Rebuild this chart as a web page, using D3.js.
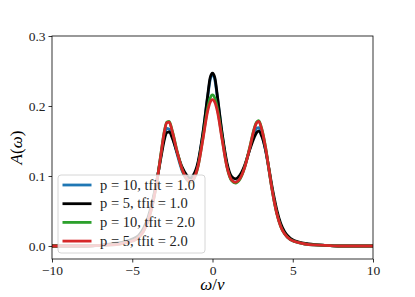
<!DOCTYPE html>
<html>
<head>
<meta charset="utf-8">
<script src="https://cdn.jsdelivr.net/npm/d3@7"></script>
<style>
  body { margin: 0; background: #fff; }
</style>
</head>
<body>
<svg id="chart" width="415" height="297"></svg>
<script>
// values
const omega = [-10, -8, -7, -6, -5.5, -5, -4.6, -4.3, -4.0, -3.7, -3.45, -3.2, -3.0, -2.85, -2.7, -2.5, -2.2, -1.9, -1.6, -1.4, -1.2, -0.9, -0.6, -0.3, -0.15, 0,
  0.15, 0.3, 0.6, 0.9, 1.2, 1.43, 1.7, 2.0, 2.3, 2.6, 2.75, 2.88, 3.05, 3.3, 3.5, 3.7, 3.85, 4.0, 4.25, 4.5, 4.85, 5.5, 6, 7, 8, 10];

const p10_t1 = [0.000, 0.000, 0.001, 0.003, 0.005, 0.008, 0.013, 0.022, 0.039, 0.065, 0.095, 0.131, 0.158, 0.168, 0.167, 0.156, 0.131, 0.108, 0.095, 0.092, 0.096, 0.118, 0.160, 0.213, 0.237, 0.245,
  0.237, 0.213, 0.159, 0.116, 0.094, 0.091, 0.097, 0.113, 0.137, 0.161, 0.168, 0.169, 0.160, 0.137, 0.111, 0.083, 0.064, 0.048, 0.029, 0.018, 0.009, 0.004, 0.002, 0.001, 0.000, 0.000];

const p5_t1 = [0.000, 0.000, 0.001, 0.004, 0.006, 0.010, 0.015, 0.025, 0.042, 0.068, 0.096, 0.128, 0.152, 0.162, 0.163, 0.154, 0.133, 0.113, 0.101, 0.097, 0.101, 0.120, 0.161, 0.215, 0.240, 0.247,
  0.240, 0.215, 0.161, 0.119, 0.099, 0.096, 0.101, 0.115, 0.136, 0.155, 0.162, 0.164, 0.158, 0.138, 0.113, 0.086, 0.068, 0.052, 0.032, 0.020, 0.011, 0.005, 0.003, 0.001, 0.000, 0.000];

const p10_t2 = [0.000, 0.000, 0.001, 0.002, 0.004, 0.007, 0.012, 0.021, 0.037, 0.063, 0.094, 0.134, 0.164, 0.177, 0.178, 0.164, 0.135, 0.110, 0.095, 0.091, 0.094, 0.114, 0.154, 0.197, 0.211, 0.216,
  0.211, 0.197, 0.154, 0.113, 0.093, 0.090, 0.095, 0.112, 0.139, 0.168, 0.177, 0.179, 0.169, 0.142, 0.112, 0.082, 0.063, 0.047, 0.028, 0.017, 0.009, 0.004, 0.002, 0.001, 0.000, 0.000];

const p5_t2 = [0.000, 0.000, 0.001, 0.002, 0.004, 0.007, 0.012, 0.021, 0.037, 0.063, 0.094, 0.133, 0.163, 0.176, 0.177, 0.163, 0.134, 0.110, 0.096, 0.092, 0.095, 0.114, 0.152, 0.193, 0.205, 0.209,
  0.205, 0.193, 0.152, 0.113, 0.094, 0.091, 0.096, 0.112, 0.138, 0.167, 0.176, 0.178, 0.168, 0.141, 0.112, 0.082, 0.063, 0.047, 0.028, 0.017, 0.009, 0.004, 0.002, 0.001, 0.000, 0.000];

const seriesNames = ["p = 10, tfit = 1.0", "p = 5, tfit = 1.0", "p = 10, tfit = 2.0", "p = 5, tfit = 2.0"];
const seriesValues = [p10_t1, p5_t1, p10_t2, p5_t2];
const colors = ["#1f77b4", "#000000", "#2ca02c", "#d62728"];

const xTicks = [-10, -5, 0, 5, 10];
const yTicks = [0.0, 0.1, 0.2, 0.3];

const FONT = "'Liberation Serif'";

const svg = d3.select('#chart');
const margin = {top: 36, right: 42, bottom: 38, left: 52};
const width = +svg.attr('width');
const height = +svg.attr('height');
const innerWidth = width - margin.left - margin.right;
const innerHeight = height - margin.top - margin.bottom;

const xScale = d3.scaleLinear().domain([-10, 10]).range([0, innerWidth]);
const yScale = d3.scaleLinear().domain([-0.0186, 0.3]).range([innerHeight, 0]);

const g = svg.append('g')
  .attr('transform', `translate(${margin.left},${margin.top})`);

g.append('clipPath').attr('id', 'clip')
  .append('rect').attr('width', innerWidth).attr('height', innerHeight);

const line = d3.line()
  .x(d => xScale(d[0]))
  .y(d => yScale(d[1]))
  .curve(d3.curveMonotoneX);

seriesValues.forEach((vals, i) => {
  g.append('path')
    .datum(omega.map((w, j) => [w, vals[j]]))
    .attr('clip-path', 'url(#clip)')
    .attr('fill', 'none')
    .attr('stroke', colors[i])
    .attr('stroke-width', 2.8)
    .attr('stroke-linejoin', 'round')
    .attr('d', line);
});

// axes
const fmtX = d => d < 0 ? '\u2212' + Math.abs(d) : String(d);
const xAxis = d3.axisBottom(xScale).tickValues(xTicks).tickFormat(fmtX).tickSizeOuter(0).tickSize(3.5).tickPadding(3);
const yAxis = d3.axisLeft(yScale).tickValues(yTicks).tickFormat(d3.format('.1f')).tickSizeOuter(0).tickSize(3.5).tickPadding(3);

g.append('g').attr('transform', `translate(0,${innerHeight})`).call(xAxis)
  .attr('font-family', null);
g.append('g').call(yAxis)
  .attr('font-family', null);
g.selectAll('.domain').remove();

g.selectAll('.tick line').attr('stroke', '#000').attr('stroke-width', 0.8);
g.selectAll('.tick text')
  .attr('fill', '#222')
  .attr('font-size', 13.5)
  .style('font-family', FONT);

// frame
g.append('rect')
  .attr('width', innerWidth).attr('height', innerHeight)
  .attr('fill', 'none').attr('stroke', '#000').attr('stroke-width', 0.8);

// axis labels
svg.append('text')
  .attr('x', margin.left + innerWidth / 2).attr('y', 290)
  .attr('text-anchor', 'middle')
  .attr('font-size', 17).style('font-family', FONT)
  .html('<tspan font-style="italic">ω</tspan>/<tspan font-style="italic">v</tspan>');

svg.append('text')
  .attr('transform', `translate(22,${margin.top + innerHeight / 2}) rotate(-90)`)
  .attr('text-anchor', 'middle')
  .attr('font-size', 17).style('font-family', FONT)
  .html('<tspan font-style="italic">A</tspan>(<tspan font-style="italic">ω</tspan>)');

// legend
const legend = svg.append('g').attr('transform', 'translate(58,175)');
legend.append('rect')
  .attr('width', 147).attr('height', 78).attr('rx', 3)
  .attr('fill', '#fff').attr('fill-opacity', 0.8)
  .attr('stroke', '#ccc').attr('stroke-width', 0.8);

seriesNames.forEach((name, i) => {
  const yy = 10 + i * 18.7;
  legend.append('line')
    .attr('x1', 4.5).attr('x2', 33.5).attr('y1', yy).attr('y2', yy)
    .attr('stroke', colors[i]).attr('stroke-width', 2.8);
  legend.append('text')
    .attr('x', 42).attr('y', yy + 4.5)
    .attr('fill', '#222')
    .attr('font-size', 14.5).style('font-family', FONT)
    .text(name);
});
</script>
</body>
</html>
